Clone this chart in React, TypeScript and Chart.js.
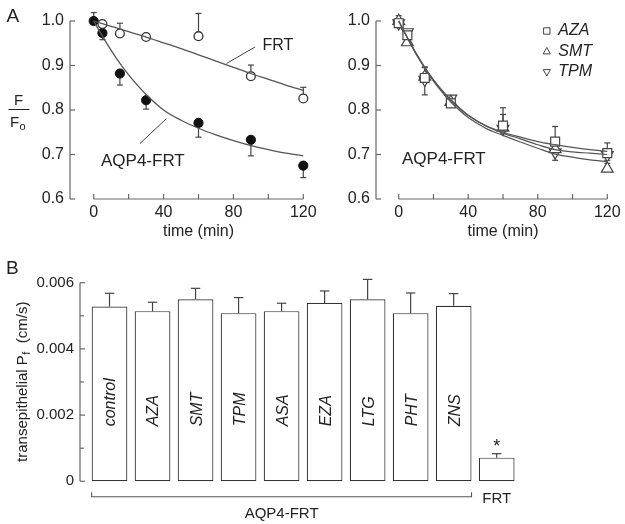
import React, { useEffect, useRef } from "react";
import { Chart, registerables } from "chart.js";
Chart.register(...registerables);

const W = 625;
const H = 524;
const FONT = "'Liberation Sans', Arial, Helvetica, sans-serif";
const TXT = "#222";
const AXIS = "#666";
const LINE = "#555";

// ---------- Panel A (left): FRT vs AQP4-FRT ----------
const pointTimes = [0, 5, 15, 30, 60, 90, 120];
const frtTimes = [5, 15, 30, 60, 90, 120];
const frtValues = [0.993, 0.972, 0.964, 0.966, 0.876, 0.826];
const frtErrUp = [0.008, 0.023, 0.006, 0.051, 0.025, 0.025];
const aqp4Values = [1.0, 0.973, 0.882, 0.822, 0.771, 0.733, 0.675];
const aqp4ErrUp = [0.019, 0, 0, 0, 0, 0, 0];
const aqp4ErrDown = [0.005, 0.015, 0.026, 0.02, 0.032, 0.036, 0.027];

const fitTimes = [0, 5, 10, 15, 20, 25, 30, 40, 50, 60, 70, 80, 90, 100, 110, 120];
const frtFit = [1.0, 0.994, 0.988, 0.982, 0.976, 0.97, 0.964, 0.951, 0.938, 0.924, 0.91, 0.896, 0.882, 0.869, 0.856, 0.844];
const aqp4Fit = [1.0, 0.966, 0.934, 0.905, 0.879, 0.856, 0.835, 0.8, 0.777, 0.759, 0.744, 0.731, 0.72, 0.711, 0.703, 0.697];

// ---------- Panel A (right): drugs on AQP4-FRT ----------
const azaValues = [0.995, 0.968, 0.872, 0.815, 0.765, 0.729, 0.703];
const smtValues = [1.0, 0.952, 0.875, 0.818, 0.76, 0.712, 0.668];
const tpmValues = [0.995, 0.975, 0.868, 0.826, 0.758, 0.705, 0.699];
const azaErrUp = [0.01, 0.008, 0.025, 0.008, 0.04, 0.034, 0.023];
const smtErrUp = [0.012, 0.01, 0.02, 0.01, 0.03, 0.012, 0.012];
const tpmErrDown = [0.006, 0.012, 0.034, 0.012, 0.01, 0.018, 0.012];
const azaFit = [1.0, 0.962, 0.926, 0.895, 0.867, 0.843, 0.822, 0.788, 0.765, 0.75, 0.739, 0.729, 0.722, 0.716, 0.711, 0.707];
const smtFit = [1.0, 0.962, 0.926, 0.894, 0.865, 0.84, 0.818, 0.783, 0.759, 0.743, 0.728, 0.714, 0.701, 0.694, 0.688, 0.684];
const tpmFit = [1.0, 0.963, 0.928, 0.896, 0.868, 0.844, 0.823, 0.788, 0.764, 0.748, 0.735, 0.722, 0.711, 0.706, 0.703, 0.7];
const drugLabels = ["AZA", "SMT", "TPM"];

const timeTicks = [0, 40, 80, 120];
const timeMinorTicks = [20, 60, 100];
const ratioTicks = [0.6, 0.7, 0.8, 0.9, 1.0];

// ---------- Panel B: transepithelial Pf ----------
const barCategories = ["control", "AZA", "SMT", "TPM", "ASA", "EZA", "LTG", "PHT", "ZNS", "FRT"];
const pfValues = [0.00528, 0.00514, 0.0055, 0.00508, 0.00514, 0.00539, 0.0055, 0.00508, 0.0053, 0.000715];
const pfErr = [0.0004, 0.00027, 0.00033, 0.00047, 0.00024, 0.00036, 0.0006, 0.00061, 0.00037, 0.00012];
const pfTicks = [0, 0.002, 0.004, 0.006];
const pfTickLabels = ["0", "0.002", "0.004", "0.006"];
const pfMinorTicks = [0.001, 0.003, 0.005];

const xy = (xs: number[], ys: number[]) => xs.map((x, i) => ({ x, y: ys[i] }));

function line(ctx: CanvasRenderingContext2D, x1: number, y1: number, x2: number, y2: number) {
  ctx.beginPath();
  ctx.moveTo(x1, y1);
  ctx.lineTo(x2, y2);
  ctx.stroke();
}

function text(ctx: CanvasRenderingContext2D, s: string, x: number, y: number, font: string, align: CanvasTextAlign = "left", base: CanvasTextBaseline = "alphabetic") {
  ctx.font = font;
  ctx.textAlign = align;
  ctx.textBaseline = base;
  ctx.fillStyle = TXT;
  ctx.fillText(s, x, y);
}

function drawTimeAxes(chart: any, axisOffset: number) {
  const ctx: CanvasRenderingContext2D = chart.ctx;
  const xs = chart.scales.x;
  const ys = chart.scales.y;
  const axisX = chart.chartArea.left - axisOffset;
  const y0 = ys.getPixelForValue(0.6);
  const y1 = ys.getPixelForValue(1.0);
  ctx.save();
  ctx.strokeStyle = AXIS;
  ctx.lineWidth = 1.2;
  line(ctx, axisX, y1, axisX, y0);
  for (const v of ratioTicks) {
    const py = ys.getPixelForValue(v);
    line(ctx, axisX, py, axisX + 5, py);
    text(ctx, v.toFixed(1), axisX - 6, py, `16px ${FONT}`, "right", "middle");
  }
  line(ctx, xs.getPixelForValue(0), y0, xs.getPixelForValue(120), y0);
  for (const v of timeTicks.concat(timeMinorTicks)) {
    const px = xs.getPixelForValue(v);
    line(ctx, px, y0, px, y0 - 5);
  }
  for (const v of timeTicks) {
    text(ctx, String(v), xs.getPixelForValue(v), y0 + 17.5, `16px ${FONT}`, "center");
  }
  text(ctx, "time (min)", (xs.getPixelForValue(0) + xs.getPixelForValue(120)) / 2, y0 + 37, `16px ${FONT}`, "center");
  ctx.restore();
}

function drawErr(chart: any, xsArr: number[], vals: number[], up: number[] | null, down: number[] | null, cap: number) {
  const ctx: CanvasRenderingContext2D = chart.ctx;
  const xs = chart.scales.x;
  const ys = chart.scales.y;
  ctx.save();
  ctx.strokeStyle = "#444";
  ctx.lineWidth = 1.2;
  xsArr.forEach((t, i) => {
    const px = xs.getPixelForValue(t);
    const py = ys.getPixelForValue(vals[i]);
    if (up && up[i] > 0) {
      const pe = ys.getPixelForValue(vals[i] + up[i]);
      line(ctx, px, py, px, pe);
      line(ctx, px - cap, pe, px + cap, pe);
    }
    if (down && down[i] > 0) {
      const pe = ys.getPixelForValue(vals[i] - down[i]);
      line(ctx, px, py, px, pe);
      line(ctx, px - cap, pe, px + cap, pe);
    }
  });
  ctx.restore();
}

function LeftChart() {
  const ref = useRef<HTMLCanvasElement>(null);
  useEffect(() => {
    const plugin = {
      id: "leftDeco",
      beforeDatasetsDraw(chart: any) {
        drawErr(chart, frtTimes, frtValues, frtErrUp, null, 3);
        drawErr(chart, pointTimes, aqp4Values, aqp4ErrUp, aqp4ErrDown, 3);
      },
      afterDraw(chart: any) {
        const ctx: CanvasRenderingContext2D = chart.ctx;
        drawTimeAxes(chart, 23.7);
        ctx.save();
        text(ctx, "A", 6.5, 21.5, `19px ${FONT}`);
        // F / Fo
        text(ctx, "F", 18.5, 105, `15px ${FONT}`, "center");
        ctx.strokeStyle = TXT;
        ctx.lineWidth = 1;
        line(ctx, 8.5, 109.5, 29.5, 109.5);
        text(ctx, "F", 10, 126.5, `15px ${FONT}`);
        text(ctx, "o", 19.5, 130, `11px ${FONT}`);
        // annotations
        text(ctx, "FRT", 262.5, 50, `16px ${FONT}`);
        text(ctx, "AQP4-FRT", 101, 165.5, `17px ${FONT}`);
        ctx.strokeStyle = "#444";
        ctx.lineWidth = 1;
        line(ctx, 226.5, 63.5, 255, 47);
        line(ctx, 140, 143.5, 166.5, 118.5);
        ctx.restore();
      },
    };
    const chart = new Chart(ref.current!, {
      type: "scatter",
      data: {
        datasets: [
          { data: xy(fitTimes, frtFit), showLine: true, borderColor: LINE, borderWidth: 1.3, pointRadius: 0, cubicInterpolationMode: "monotone", clip: false } as any,
          { data: xy(fitTimes, aqp4Fit), showLine: true, borderColor: LINE, borderWidth: 1.3, pointRadius: 0, cubicInterpolationMode: "monotone", clip: false } as any,
          { data: xy(frtTimes, frtValues), pointRadius: 4.4, pointBackgroundColor: "#fff", pointBorderColor: "#333", pointBorderWidth: 1.3, clip: false } as any,
          { data: xy(pointTimes, aqp4Values), pointRadius: 4.6, pointBackgroundColor: "#111", pointBorderColor: "#111", pointBorderWidth: 1, clip: false } as any,
        ],
      },
      options: {
        responsive: false,
        animation: false,
        events: [],
        layout: { padding: { left: 93.7, right: W - 303.3, top: 21, bottom: H - 199 } },
        plugins: { legend: { display: false }, tooltip: { enabled: false } },
        scales: {
          x: { type: "linear", min: 0, max: 120, display: false },
          y: { type: "linear", min: 0.6, max: 1.0, display: false },
        },
      },
      plugins: [plugin],
    });
    return () => chart.destroy();
  }, []);
  return <canvas ref={ref} width={W} height={H} style={{ position: "absolute", left: 0, top: 0 }} />;
}

function drawMarker(ctx: CanvasRenderingContext2D, kind: number, x: number, y: number, r: number) {
  ctx.beginPath();
  if (kind === 0) {
    ctx.rect(x - r, y - r, 2 * r, 2 * r);
  } else if (kind === 1) {
    ctx.moveTo(x, y - r);
    ctx.lineTo(x + r * 0.9, y + r * 0.6);
    ctx.lineTo(x - r * 0.9, y + r * 0.6);
    ctx.closePath();
  } else {
    ctx.moveTo(x, y + r);
    ctx.lineTo(x + r * 0.9, y - r * 0.6);
    ctx.lineTo(x - r * 0.9, y - r * 0.6);
    ctx.closePath();
  }
  ctx.fillStyle = "#fff";
  ctx.fill();
  ctx.stroke();
}

function RightChart() {
  const ref = useRef<HTMLCanvasElement>(null);
  useEffect(() => {
    const plugin = {
      id: "rightDeco",
      beforeDatasetsDraw(chart: any) {
        drawErr(chart, pointTimes, azaValues, azaErrUp, null, 3);
        drawErr(chart, pointTimes, smtValues, smtErrUp, null, 3);
        drawErr(chart, pointTimes, tpmValues, null, tpmErrDown, 3);
      },
      afterDraw(chart: any) {
        const ctx: CanvasRenderingContext2D = chart.ctx;
        drawTimeAxes(chart, 22.7);
        ctx.save();
        text(ctx, "AQP4-FRT", 402, 163.5, `17px ${FONT}`);
        ctx.strokeStyle = "#444";
        ctx.lineWidth = 1;
        const lx = chart.chartArea.right - 60.5;
        const rows = [31, 51.5, 72];
        drugLabels.forEach((lab, i) => {
          drawMarker(ctx, i, lx, rows[i], i === 0 ? 3.2 : 4);
          text(ctx, lab, lx + 11.5, rows[i], `italic 16px ${FONT}`, "left", "middle");
        });
        ctx.restore();
      },
    };
    const common = { showLine: true, borderColor: LINE, borderWidth: 1.2, pointRadius: 0, cubicInterpolationMode: "monotone", clip: false };
    const mk = { showLine: false, pointBackgroundColor: "#fff", pointBorderColor: "#444", pointBorderWidth: 1.2, clip: false };
    const chart = new Chart(ref.current!, {
      type: "scatter",
      data: {
        datasets: [
          { ...common, data: xy(fitTimes, azaFit) } as any,
          { ...common, data: xy(fitTimes, smtFit) } as any,
          { ...common, data: xy(fitTimes, tpmFit) } as any,
          { ...mk, data: xy(pointTimes, azaValues), pointStyle: "rect", pointRadius: 6.3 } as any,
          { ...mk, data: xy(pointTimes, smtValues), pointStyle: "triangle", pointRadius: 6.8 } as any,
          { ...mk, data: xy(pointTimes, tpmValues), pointStyle: "triangle", pointRotation: 180, pointRadius: 6.8 } as any,
        ],
      },
      options: {
        responsive: false,
        animation: false,
        events: [],
        layout: { padding: { left: 398.7, right: W - 607.3, top: 21, bottom: H - 199 } },
        plugins: { legend: { display: false }, tooltip: { enabled: false } },
        scales: {
          x: { type: "linear", min: 0, max: 120, display: false },
          y: { type: "linear", min: 0.6, max: 1.0, display: false },
        },
      },
      plugins: [plugin],
    });
    return () => chart.destroy();
  }, []);
  return <canvas ref={ref} width={W} height={H} style={{ position: "absolute", left: 0, top: 0 }} />;
}

function BarChart() {
  const ref = useRef<HTMLCanvasElement>(null);
  useEffect(() => {
    const plugin = {
      id: "barDeco",
      afterDraw(chart: any) {
        const ctx: CanvasRenderingContext2D = chart.ctx;
        const xs = chart.scales.x;
        const ys = chart.scales.y;
        const area = chart.chartArea;
        const meta = chart.getDatasetMeta(0);
        ctx.save();
        ctx.strokeStyle = AXIS;
        ctx.lineWidth = 1.2;
        const axisX = area.left - 8;
        const yb = ys.getPixelForValue(0);
        const yt = ys.getPixelForValue(0.006);
        line(ctx, axisX, yt, axisX, yb);
        pfTicks.forEach((v, i) => {
          const py = ys.getPixelForValue(v);
          line(ctx, axisX, py, axisX + 5, py);
          text(ctx, pfTickLabels[i], axisX - 6, py, `15px ${FONT}`, "right", "middle");
        });
        for (const v of pfMinorTicks) {
          const py = ys.getPixelForValue(v);
          line(ctx, axisX, py, axisX + 4, py);
        }
        // error bars
        ctx.strokeStyle = "#444";
        pfValues.forEach((v, i) => {
          const px = xs.getPixelForValue(i);
          const p1 = ys.getPixelForValue(v);
          const p2 = ys.getPixelForValue(v + pfErr[i]);
          line(ctx, px, p1, px, p2);
          line(ctx, px - 4.7, p2, px + 4.7, p2);
        });
        // labels inside bars
        for (let i = 0; i < barCategories.length - 1; i++) {
          const px = xs.getPixelForValue(i);
          ctx.save();
          ctx.translate(px + 1.5, yb - 55);
          ctx.rotate(-Math.PI / 2);
          text(ctx, barCategories[i], 0, 0, `italic 16px ${FONT}`, "left", "middle");
          ctx.restore();
        }
        // bracket
        const bw = meta.data[0].width;
        const bl = xs.getPixelForValue(0) - bw / 2;
        const br = xs.getPixelForValue(8) + bw / 2;
        ctx.strokeStyle = "#555";
        ctx.lineWidth = 1.1;
        const by = yb + 15.5;
        ctx.beginPath();
        ctx.moveTo(bl, by - 4.5);
        ctx.lineTo(bl, by);
        ctx.lineTo(br, by);
        ctx.lineTo(br, by - 4.5);
        ctx.stroke();
        text(ctx, "AQP4-FRT", (bl + br) / 2, yb + 37, `15px ${FONT}`, "center");
        const fx = xs.getPixelForValue(9);
        text(ctx, "FRT", fx, yb + 22, `15px ${FONT}`, "center");
        text(ctx, "*", fx, ys.getPixelForValue(pfValues[9] + pfErr[9]) - 2, `18px ${FONT}`, "center");
        text(ctx, "B", 6, 273.5, `19px ${FONT}`);
        // y title
        ctx.save();
        ctx.translate(26.5, (yt + yb) / 2);
        ctx.rotate(-Math.PI / 2);
        const f1 = `15px ${FONT}`;
        const f2 = `11px ${FONT}`;
        const a = "transepithelial P";
        const b = "f";
        const c = "  (cm/s)";
        ctx.font = f1;
        const wa = ctx.measureText(a).width;
        const wc = ctx.measureText(c).width;
        ctx.font = f2;
        const wb = ctx.measureText(b).width;
        const start = -(wa + wb + wc) / 2;
        text(ctx, a, start, 0, f1);
        text(ctx, b, start + wa + 0.5, 3.5, f2);
        text(ctx, c, start + wa + wb + 0.5, 0, f1);
        ctx.restore();
        ctx.restore();
      },
    };
    const chart = new Chart(ref.current!, {
      type: "bar",
      data: {
        labels: barCategories,
        datasets: [
          {
            data: pfValues,
            backgroundColor: "#fff",
            borderColor: "#333",
            borderWidth: 1.2,
            borderSkipped: false,
            barPercentage: 0.83,
            categoryPercentage: 1,
          } as any,
        ],
      },
      options: {
        responsive: false,
        animation: false,
        events: [],
        layout: { padding: { left: 88, right: W - 518.2, top: 282.7, bottom: H - 481.3 } },
        plugins: { legend: { display: false }, tooltip: { enabled: false } },
        scales: {
          x: { type: "category", offset: true, display: false },
          y: { type: "linear", min: 0, max: 0.006, display: false },
        },
      },
      plugins: [plugin],
    });
    return () => chart.destroy();
  }, []);
  return <canvas ref={ref} width={W} height={H} style={{ position: "absolute", left: 0, top: 0 }} />;
}

export default function App() {
  return (
    <div style={{ position: "absolute", left: 0, top: 0, width: W, height: H, background: "#fff", overflow: "hidden" }}>
      <BarChart />
      <LeftChart />
      <RightChart />
    </div>
  );
}
